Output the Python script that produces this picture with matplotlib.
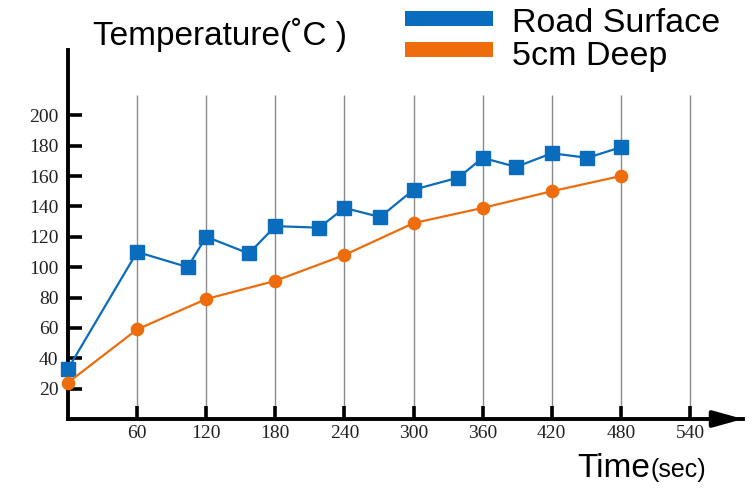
import matplotlib.pyplot as plt
from matplotlib.patches import Rectangle

# data
road_x = [0, 60, 104, 120, 157, 180, 218, 240, 271, 300, 339, 360, 389, 420, 451, 480]
road_y = [33, 110, 100, 120, 109, 127, 126, 139, 133, 151, 159, 172, 166, 175, 172, 179]
deep_x = [0, 60, 120, 180, 240, 300, 360, 420, 480]
deep_y = [24, 59, 79, 91, 108, 129, 139, 150, 160]
x_ticks = [60, 120, 180, 240, 300, 360, 420, 480, 540]
y_ticks = [20, 40, 60, 80, 100, 120, 140, 160, 180, 200]

blue = '#0a6cbc'
orange = '#ee6c0c'

W, H = 752, 488
fig = plt.figure(figsize=(W / 100, H / 100), dpi=100)
ax = fig.add_axes([68 / W, (H - 419) / H, (743 - 68) / W, (419 - 50) / H])


def px(x, y):
    # pixel position -> figure fraction
    return x / W, 1 - y / H


# vertical grid lines, stopping below the top of the axis
ax.vlines(x_ticks, 0, 213.5, color='#8a8a8a', lw=1.0, zorder=1)

ax.plot(road_x, road_y, color=blue, lw=1.6, marker='s', ms=9.5, zorder=3, clip_on=False)
ax.plot(deep_x, deep_y, color=orange, lw=1.6, marker='o', ms=8.8, zorder=3, clip_on=False)

ax.set_xlim(0, 586)
ax.set_ylim(0, 243)

for s in ['top', 'right']:
    ax.spines[s].set_visible(False)
for s in ['left', 'bottom']:
    ax.spines[s].set_linewidth(2.8)
    ax.spines[s].set_color('black')

ax.set_xticks(x_ticks)
ax.set_yticks(y_ticks)
ax.tick_params(axis='x', direction='in', length=9.5, width=2.6, pad=4)
ax.tick_params(axis='y', direction='in', length=10, width=2.6, pad=7)
for lab in ax.get_xticklabels() + ax.get_yticklabels():
    lab.set_fontfamily('Liberation Serif')
    lab.set_fontsize(14)
    lab.set_color('#222222')

# arrow head on the time axis
ax.annotate('', xy=(1.0, 0), xytext=(0.95, 0), xycoords='axes fraction',
            arrowprops=dict(arrowstyle='-|>,head_length=0.9,head_width=0.25',
                            mutation_scale=20, color='black', lw=2.8,
                            shrinkA=0, shrinkB=0), annotation_clip=False)

sans = 'Liberation Sans'
fig.text(*px(93, 45), 'Temperature(˚C )', fontfamily=sans, fontsize=24, va='baseline')
fig.text(*px(577, 477), 'Time', fontfamily=sans, fontsize=24, va='baseline')
fig.text(*px(651, 477), '(sec)', fontfamily=sans, fontsize=18, va='baseline')

# legend
for (y0, col) in [(11, blue), (42, orange)]:
    x, y = px(405, y0 + 15)
    fig.add_artist(Rectangle((x, y), 88 / W, 15 / H, transform=fig.transFigure,
                             color=col, lw=0))
fig.text(*px(512, 32), 'Road Surface', fontfamily=sans, fontsize=24.5, va='baseline')
fig.text(*px(512, 65), '5cm Deep', fontfamily=sans, fontsize=24.5, va='baseline')

fig.savefig('out.png', dpi=100)
